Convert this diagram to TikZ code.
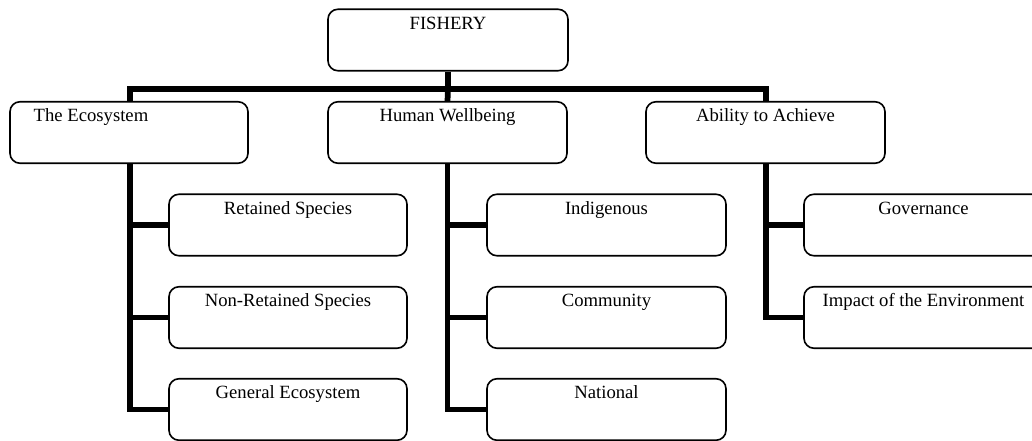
\documentclass[tikz,border=0pt]{standalone}
\usepackage{fontspec}
\setmainfont{Liberation Serif}
\begin{document}
\begin{tikzpicture}[x=0.75pt, y=-0.75pt,
  box/.style={draw=black, line width=1.2pt, rounded corners=7.5pt, fill=white,
    minimum width=#1*0.75pt, minimum height=61.5*0.75pt, inner sep=0pt},
  box/.default=239,
  title/.style={anchor=base, yshift=-21*0.75pt, inner sep=0pt,
    font=\fontsize{14pt}{16pt}\selectfont},
  trunk/.style={line width=4.3pt, line join=miter, line cap=butt}]
\useasboundingbox (0,0) rectangle (1032,441);
\clip (0,0) rectangle (1032,441);

% top level
\node[box=240, label={[title]north:FISHERY}] (fish) at (448,40) {};
\node[box=238, label={[title, xshift=-38*0.75pt]north:The Ecosystem}] (eco) at (129,132.5) {};
\node[box, label={[title]north:Human Wellbeing}] (hum) at (447.5,132.5) {};
\node[box, label={[title]north:Ability to Achieve}] (abl) at (765.5,132.5) {};

% ecosystem branch
\node[box=238, label={[title]north:Retained Species}] (eco1) at (288,225) {};
\node[box=238, label={[title]north:Non-Retained Species}] (eco2) at (288,317.5) {};
\node[box=238, label={[title]north:General Ecosystem}] (eco3) at (288,409.5) {};

% human wellbeing branch
\node[box, label={[title]north:Indigenous}] (hum1) at (606.5,225) {};
\node[box, label={[title]north:Community}] (hum2) at (606.5,317.5) {};
\node[box, label={[title]north:National}] (hum3) at (606.5,409.5) {};

% ability branch
\node[box, label={[title]north:Governance}] (abl1) at (923.5,225) {};
\node[box, label={[title]north:Impact of the Environment}] (abl2) at (923.5,317.5) {};

% connectors
\coordinate (bus) at (448,89);
\draw[trunk] (fish.south) -- (bus);
\draw[trunk] ([xshift=1*0.75pt]eco.north) |- (bus) -| ([xshift=0.5*0.75pt]abl.north);
\draw[trunk] (bus) -- (hum.north);

\draw[trunk] ([xshift=1*0.75pt]eco.south) |- (eco3.west);
\draw[trunk] (eco1.west -| eco.south) -- (eco1.west);
\draw[trunk] (eco2.west -| eco.south) -- (eco2.west);

\draw[trunk] (hum.south) |- (hum3.west);
\draw[trunk] (hum1.west -| hum.south) -- (hum1.west);
\draw[trunk] (hum2.west -| hum.south) -- (hum2.west);

\draw[trunk] ([xshift=0.5*0.75pt]abl.south) |- (abl2.west);
\draw[trunk] (abl1.west -| abl.south) -- (abl1.west);
\end{tikzpicture}
\end{document}
